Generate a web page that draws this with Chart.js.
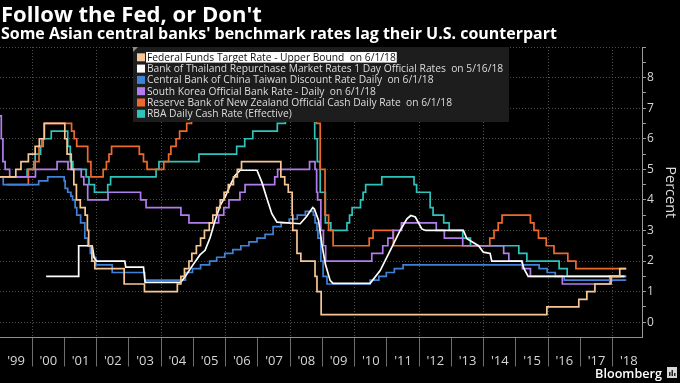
<!DOCTYPE html>
<html><head><meta charset="utf-8">
<script src="https://cdn.jsdelivr.net/npm/chart.js@4.4.1/dist/chart.umd.min.js"></script>
<style>html,body{margin:0;padding:0;background:#000;overflow:hidden}canvas{display:block}</style>
</head><body>
<canvas id="c" width="680" height="383"></canvas>
<script>
const titleText = "Follow the Fed, or Don't";
const subtitleText = "Some Asian central banks' benchmark rates lag their U.S. counterpart";
const sourceText = "Bloomberg";
const firstYear = 1999;
const yearLabels = ["'99","'00","'01","'02","'03","'04","'05","'06","'07","'08","'09","'10","'11","'12","'13","'14","'15","'16","'17","'18"];
const yTickLabels = ["0","1","2","3","4","5","6","7","8"];
const yAxisTitle = "Percent";
const seriesNames = [
  "Federal Funds Target Rate - Upper Bound  on 6/1/18",
  "Bank of Thailand Repurchase Market Rates 1 Day Official Rates  on 5/16/18",
  "Central Bank of China Taiwan Discount Rate Daily  on 6/1/18",
  "South Korea Official Bank Rate - Daily  on 6/1/18",
  "Reserve Bank of New Zealand Official Cash Daily Rate  on 6/1/18",
  "RBA Daily Cash Rate (Effective)"
];
const seriesColors = ["#f6c795", "#ffffff", "#3f82d8", "#b27ded", "#ee6a2c", "#2fc4bb"];

// step series: value changes to rate[i] at date[i]
const fedDates = [1999.0,1999.49,1999.65,1999.88,2000.09,2000.22,2000.37,2001.01,2001.08,2001.21,2001.29,2001.37,2001.49,2001.64,2001.71,2001.75,2001.85,2001.94,2002.85,2003.48,2004.5,2004.61,2004.72,2004.86,2004.95,2005.09,2005.22,2005.34,2005.49,2005.6,2005.72,2005.83,2005.95,2006.08,2006.24,2006.36,2006.49,2007.71,2007.83,2007.94,2008.06,2008.08,2008.21,2008.33,2008.77,2008.83,2008.96,2015.96,2016.95,2017.2,2017.45,2017.95,2018.22,2018.42];
const fedRates = [4.75,5.0,5.25,5.5,5.75,6.0,6.5,6.0,5.5,5.0,4.5,4.0,3.75,3.5,3.0,2.5,2.0,1.75,1.25,1.0,1.25,1.5,1.75,2.0,2.25,2.5,2.75,3.0,3.25,3.5,3.75,4.0,4.25,4.5,4.75,5.0,5.25,4.75,4.5,4.25,3.5,3.0,2.25,2.0,1.5,1.0,0.25,0.5,0.75,1.0,1.25,1.5,1.75,1.75];

// market rate series, drawn point to point
const thDates = [2000.43,2001.42,2001.44,2001.86,2001.92,2002.0,2002.87,2002.9,2003.45,2003.5,2004.6,2004.75,2005.0,2005.2,2005.36,2005.52,2005.67,2005.83,2005.98,2006.14,2006.29,2006.45,2006.97,2007.12,2007.28,2007.43,2007.59,2008.31,2008.5,2008.7,2008.75,2008.88,2008.98,2009.09,2009.24,2009.33,2010.48,2010.79,2011.1,2011.41,2011.62,2011.74,2011.88,2012.08,2012.2,2013.37,2013.48,2013.84,2013.99,2014.2,2014.25,2015.18,2015.25,2015.38,2018.37];
const thRates = [1.5,1.5,2.5,2.5,2.1,2.0,2.0,1.8,1.8,1.3,1.3,1.5,1.9,2.2,2.35,2.78,3.33,3.82,4.09,4.48,4.8,4.97,4.97,4.58,4.04,3.55,3.27,3.22,3.45,3.75,3.7,3.33,2.56,1.9,1.36,1.27,1.27,1.69,2.34,3.0,3.38,3.49,3.44,3.05,3.0,3.0,2.73,2.5,2.29,2.25,2.0,2.0,1.75,1.5,1.5];

const twDates = [1999.0,1999.1,2000.2,2000.48,2000.99,2001.02,2001.1,2001.2,2001.25,2001.33,2001.38,2001.5,2001.63,2001.72,2001.8,2001.89,2001.97,2002.48,2003.49,2004.75,2004.97,2005.22,2005.5,2005.72,2005.97,2006.22,2006.47,2006.72,2006.97,2007.22,2007.47,2007.72,2007.97,2008.22,2008.47,2008.72,2008.77,2008.83,2008.86,2008.95,2009.02,2009.14,2010.48,2010.75,2010.98,2011.23,2011.5,2015.72,2015.97,2016.22,2016.5,2018.42];
const twRates = [4.75,4.5,4.625,4.75,4.625,4.375,4.25,4.125,4.0,3.75,3.5,3.25,2.75,2.5,2.25,2.125,1.875,1.625,1.375,1.625,1.75,1.875,2.0,2.125,2.25,2.375,2.5,2.625,2.75,2.875,3.125,3.25,3.375,3.5,3.625,3.5,3.25,3.0,2.75,2.0,1.5,1.25,1.375,1.5,1.625,1.75,1.875,1.75,1.625,1.5,1.375,1.375];

const krDates = [1999.0,1999.04,1999.09,1999.16,1999.3,2000.1,2000.77,2001.11,2001.52,2001.6,2001.72,2002.35,2003.36,2003.53,2004.61,2004.86,2005.78,2005.94,2006.1,2006.44,2006.6,2007.52,2007.61,2008.6,2008.77,2008.82,2008.85,2008.95,2009.03,2009.1,2010.53,2010.87,2011.03,2011.19,2011.45,2012.53,2012.78,2013.35,2014.62,2014.78,2015.2,2015.45,2016.44,2017.91,2018.42];
const krRates = [6.75,6.0,5.25,5.0,4.75,5.0,5.25,5.0,4.75,4.5,4.0,4.25,4.0,3.75,3.5,3.25,3.5,3.75,4.0,4.25,4.5,4.75,5.0,5.25,5.0,4.25,4.0,3.0,2.5,2.0,2.25,2.5,2.75,3.0,3.25,3.0,2.75,2.5,2.25,2.0,1.75,1.5,1.25,1.5,1.5];

const nzDates = [1999.21,1999.88,2000.05,2000.21,2000.3,2000.38,2001.22,2001.3,2001.38,2001.72,2001.82,2002.2,2002.3,2002.38,2002.46,2003.32,2003.45,2003.56,2004.08,2004.23,2004.3,2004.46,2004.57,2004.79,2004.94,2005.2,2005.94,2007.2,2007.34,2007.44,2007.57,2008.56,2008.69,2008.81,2008.93,2009.08,2009.19,2009.33,2010.45,2010.57,2011.2,2014.19,2014.32,2014.45,2014.57,2015.45,2015.56,2015.7,2015.94,2016.18,2016.61,2016.86,2018.42];
const nzRates = [4.5,5.0,5.25,5.75,6.0,6.5,6.25,6.0,5.75,5.25,4.75,5.0,5.25,5.5,5.75,5.5,5.25,5.0,5.25,5.5,5.75,6.0,6.25,6.5,6.75,7.0,7.25,7.5,7.75,8.0,8.25,8.0,7.5,6.5,5.0,3.5,3.0,2.5,2.75,3.0,2.5,2.75,3.0,3.25,3.5,3.25,3.0,2.75,2.5,2.25,2.0,1.75,1.75];

const auDates = [1999.0,1999.84,2000.09,2000.26,2000.34,2000.59,2001.1,2001.18,2001.26,2001.67,2001.76,2001.93,2002.34,2002.43,2003.84,2003.93,2005.17,2006.34,2006.59,2006.84,2007.6,2007.85,2008.1,2008.18,2008.67,2008.76,2008.84,2008.93,2009.09,2009.26,2009.76,2009.84,2009.92,2010.18,2010.26,2010.34,2010.84,2011.84,2011.92,2012.34,2012.43,2012.76,2012.93,2013.35,2013.59,2015.09,2015.34,2016.34,2016.59,2018.42];
const auRates = [4.75,5.0,5.5,5.75,6.0,6.25,5.75,5.25,5.0,4.75,4.5,4.25,4.5,4.75,5.0,5.25,5.5,5.75,6.0,6.25,6.5,6.75,7.0,7.25,7.0,6.0,5.25,4.25,3.25,3.0,3.25,3.5,3.75,4.0,4.25,4.5,4.75,4.5,4.25,3.75,3.5,3.25,3.0,2.75,2.5,2.25,2.0,1.75,1.5,1.5];

const zip = (d, r) => d.map((x, i) => ({x: x, y: r[i]}));
const seriesData = [zip(fedDates, fedRates), zip(thDates, thRates), zip(twDates, twRates), zip(krDates, krRates), zip(nzDates, nzRates), zip(auDates, auRates)];
const seriesStepped = [true, false, true, true, true, true];

const FONT = '"Open Sans", "DejaVu Sans", sans-serif';
const mctx = document.createElement('canvas').getContext('2d');
function fitSize(text, weight, target) {
  mctx.font = weight + ' 100px ' + FONT;
  return 100 * target / mctx.measureText(text).width;
}
const titleSize = fitSize(titleText, 'bold', 261);
const subSize = fitSize(subtitleText, 'bold', 556);
const legendSize = fitSize(seriesNames[0], 'normal', 249);
const srcSize = fitSize(sourceText, '600', 67);

const xTickValues = [];
for (let y = firstYear; y < firstYear + yearLabels.length; y++) {
  if (y > firstYear) xTickValues.push(y);
  xTickValues.push(y + 0.5);
}
const TRANS = 'rgba(0,0,0,0)';
const GRID = '#4e4e4e';

const overlay = {
  id: 'overlay',
  afterDraw(chart) {
    const ctx = chart.ctx;
    ctx.save();
    ctx.textAlign = 'left';
    ctx.textBaseline = 'alphabetic';
    ctx.fillStyle = '#ffffff';
    ctx.font = 'bold ' + titleSize + 'px ' + FONT;
    ctx.fillText(titleText, 1, 21.5);
    ctx.font = 'bold ' + subSize + 'px ' + FONT;
    ctx.fillText(subtitleText, 1, 38.5);

    // legend box
    const bx = 133, by = 47, bw = 376, bh = 75;
    ctx.fillStyle = '#1d1d1d';
    ctx.fillRect(bx, by, bw, bh);
    ctx.fillStyle = '#8a8a8a';
    ctx.beginPath(); ctx.moveTo(bx, by); ctx.lineTo(bx + 5, by); ctx.lineTo(bx, by + 5); ctx.closePath(); ctx.fill();
    ctx.font = legendSize + 'px ' + FONT;
    ctx.textBaseline = 'middle';
    chart.data.datasets.forEach((ds, i) => {
      const cy = 57.3 + i * 11.3;
      ctx.fillStyle = ds.borderColor;
      ctx.fillRect(137, cy - 4, 8, 8);
      if (i === 0) {
        const w = ctx.measureText(ds.label).width;
        ctx.fillStyle = '#ffffff';
        ctx.fillRect(146, cy - 5.3, w + 2, 10.6);
        ctx.fillStyle = '#111111';
      } else {
        ctx.fillStyle = '#dcdcdc';
      }
      ctx.fillText(ds.label, 147, cy + 0.5);
    });

    // source
    ctx.textBaseline = 'alphabetic';
    ctx.textAlign = 'right';
    ctx.fillStyle = '#ffffff';
    ctx.font = '600 ' + srcSize + 'px ' + FONT;
    ctx.fillText(sourceText, 662, 378);
    ctx.fillStyle = '#d8d8d8';
    ctx.fillRect(667, 367, 10, 11);
    ctx.fillStyle = '#222';
    ctx.fillRect(669, 372, 1.5, 4);
    ctx.fillRect(671.5, 370, 1.5, 6);
    ctx.fillRect(674, 373, 1.5, 3);
    ctx.restore();
  }
};

new Chart(document.getElementById('c'), {
  type: 'line',
  data: {
    datasets: seriesNames.map((name, i) => ({
      label: name,
      data: seriesData[i],
      borderColor: seriesColors[i],
      backgroundColor: seriesColors[i],
      borderWidth: 1.7,
      pointRadius: 0,
      stepped: seriesStepped[i],
      tension: 0,
      fill: false
    }))
  },
  options: {
    responsive: false,
    animation: false,
    devicePixelRatio: 1,
    layout: {padding: {top: 47, left: 0, right: 0, bottom: 0}},
    plugins: {legend: {display: false}, tooltip: {enabled: false}, title: {display: false}},
    scales: {
      x: {
        type: 'linear',
        min: firstYear,
        max: 2018.91,
        afterBuildTicks: s => { s.ticks = xTickValues.map(v => ({value: v})); },
        afterFit: s => { s.height = 45.5; },
        ticks: {
          autoSkip: false, maxRotation: 0, minRotation: 0, padding: -13,
          color: '#d6d6d6', font: {family: FONT, size: 13},
          callback: v => Number.isInteger(v) ? '' : (yearLabels[Math.floor(v) - firstYear] || '')
        },
        grid: {
          color: c => (c.tick && Number.isInteger(c.tick.value) && c.tick.value % 2 === 0) ? GRID : TRANS,
          tickColor: c => (c.tick && Number.isInteger(c.tick.value)) ? '#6e6e6e' : TRANS,
          tickLength: 29, lineWidth: 1
        },
        border: {display: true, color: '#8e8e8e', width: 1, dash: [1, 2]}
      },
      y: {
        type: 'linear',
        position: 'right',
        min: -0.5,
        max: 9,
        afterFit: s => { s.width = 38; },
        ticks: {
          stepSize: 0.5, autoSkip: false, padding: 1,
          color: '#d6d6d6', font: {family: FONT, size: 12},
          callback: v => (Number.isInteger(v) && v >= 0 && v < yTickLabels.length) ? yTickLabels[v] : ''
        },
        grid: {
          color: c => (c.tick && Number.isInteger(c.tick.value) && c.tick.value >= 0) ? GRID : TRANS,
          tickColor: c => (c.tick && c.tick.value < 0) ? TRANS : '#9a9a9a',
          tickLength: 4, lineWidth: 1
        },
        border: {display: true, color: '#9a9a9a', width: 1, dash: [1, 2]},
        title: {display: true, text: yAxisTitle, color: '#dcdcdc', font: {family: FONT, size: 14.5}, padding: {top: 1, bottom: 0}}
      }
    }
  },
  plugins: [overlay]
});
</script>
</body></html>
